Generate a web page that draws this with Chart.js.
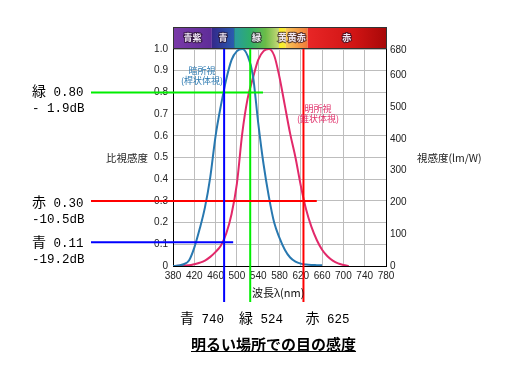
<!DOCTYPE html>
<html><head><meta charset="utf-8">
<script src="https://cdn.jsdelivr.net/npm/chart.js@4/dist/chart.umd.min.js"></script>
<style>
body{margin:0;background:#fff;width:518px;height:367px;overflow:hidden;position:relative;font-family:"Liberation Sans",Arial,sans-serif;}
#c{position:absolute;left:0;top:0;}
.t{position:absolute;white-space:pre;}
.mono{font-family:"Liberation Mono","Noto Sans CJK JP",monospace;font-size:12.5px;line-height:16px;color:#000;}
.mono b{font-weight:normal;font-family:"Noto Sans CJK JP";font-size:14px;}
.cjk{font-family:"Noto Sans CJK JP",sans-serif;}
</style></head><body>
<canvas id="c" width="518" height="367"></canvas>
<div class="t mono" style="left:32px;top:82px;"><b>緑</b> 0.80
- 1.9dB</div>
<div class="t mono" style="left:32px;top:193px;"><b>赤</b> 0.30
-10.5dB</div>
<div class="t mono" style="left:32px;top:233px;"><b>青</b> 0.11
-19.2dB</div>
<div class="t mono" style="left:180px;top:309px;"><b>青</b> 740  <b>緑</b> 524   <b>赤</b> 625</div>
<div class="t cjk" style="left:191px;top:335px;font-size:15px;line-height:18px;font-weight:bold;text-decoration:underline;">明るい場所での目の感度</div>
<div class="t cjk" style="left:106px;top:151px;font-size:10.5px;line-height:14px;color:#222;">比視感度</div>
<div class="t cjk" style="left:417px;top:151px;font-size:10.5px;line-height:14px;color:#222;">視感度(lm/W)</div>
<div class="t cjk" style="left:252px;top:285px;font-size:11px;line-height:14px;color:#111;">波長λ(nm)</div>
<div class="t cjk" style="left:172px;top:66px;width:60px;text-align:center;font-size:9px;line-height:10px;color:#2a78b0;">暗所視
(桿状体視)</div>
<div class="t cjk" style="left:288px;top:104px;width:60px;text-align:center;font-size:9px;line-height:10px;color:#e0306a;">明所視
(錐状体視)</div>
<script>
// ---- data ----
const wavelengths = [380,390,400,410,420,430,440,450,460,470,480,490,500,510,520,530,540,550,560,570,580,590,600,610,620,630,640,650,660,670,680,690,700,710];
const scotopic = [0.0,0.002,0.008,0.025,0.085,0.17,0.27,0.41,0.60,0.74,0.86,0.95,0.99,1.0,0.97,0.88,0.66,0.47,0.32,0.20,0.13,0.075,0.039,0.02,0.011,0.007,0.005,0.004,0.003,null,null,null,null,null];
const photopic = [0.0,0.001,0.002,0.003,0.008,0.015,0.025,0.042,0.065,0.095,0.15,0.24,0.38,0.61,0.77,0.865,0.95,0.99,1.0,0.97,0.87,0.74,0.61,0.50,0.37,0.26,0.18,0.12,0.075,0.045,0.025,0.012,0.005,0.0];
const xTicks = [380,420,460,500,540,580,620,660,700,740,780];
const yRightTicks = [0,100,200,300,400,500,600,680];
const yRightMax = 683;
// marker lines: name, relative value, line wavelength, horizontal line end (nm)
const markerNames = ['緑','赤','青'];
const markerValues = [0.80,0.30,0.11];
const markerNm = [525,625,476];
const markerHEndNm = [549,650,493];
const markerColors = ['#00ee00','#ff0000','#0000ff'];
// spectrum band
const bandNames = ['青紫','青','緑','黄','黄赤','赤'];
const bandEdges = [380,453,495,579,592,633,780];

const bandPlugin = {
  id:'band',
  afterDraw(chart){
    const {ctx, chartArea, scales:{x}} = chart;
    const top = chartArea.top - 22, h = 21;
    const grads = [
      [[0,'#7a3aa8'],[1,'#5e2c98']],
      [[0,'#33288a'],[1,'#2a5cb0']],
      [[0,'#2a9aa0'],[0.35,'#2eae6a'],[0.7,'#6cbc48'],[1,'#c8d878']],
      [[0,'#f8f020'],[1,'#f8e840']],
      [[0,'#f8c858'],[1,'#f07838']],
      [[0,'#e82626'],[0.6,'#d01414'],[1,'#a80808']]
    ];
    ctx.save();
    for(let i=0;i<bandNames.length;i++){
      const x0 = x.getPixelForValue(bandEdges[i]), x1 = x.getPixelForValue(bandEdges[i+1]);
      const g = ctx.createLinearGradient(x0,0,x1,0);
      grads[i].forEach(s=>g.addColorStop(s[0],s[1]));
      ctx.fillStyle = g;
      ctx.fillRect(x0,top,x1-x0,h);
      ctx.strokeStyle='#333';ctx.lineWidth=1;
      ctx.beginPath();ctx.moveTo(Math.round(x1)+0.5,top);ctx.lineTo(Math.round(x1)+0.5,top+h);ctx.stroke();
      ctx.font='bold 9px "Noto Sans CJK JP"';
      ctx.textAlign='center';ctx.textBaseline='middle';
      ctx.lineWidth=2;ctx.strokeStyle='rgba(40,20,40,0.7)';
      ctx.strokeText(bandNames[i],(x0+x1)/2,top+h/2);
      ctx.fillStyle='#f0e8f4';
      ctx.fillText(bandNames[i],(x0+x1)/2,top+h/2);
    }
    ctx.strokeStyle='#333';ctx.lineWidth=1;
    ctx.strokeRect(Math.round(chartArea.left)+0.5,top+0.5,Math.round(chartArea.right-chartArea.left),h);
    ctx.restore();
  }
};
const markerPlugin = {
  id:'markers',
  afterDraw(chart){
    const {ctx, chartArea, scales:{x,y}} = chart;
    ctx.save();
    ctx.lineWidth=2;
    for(let i=0;i<markerNames.length;i++){
      ctx.strokeStyle=markerColors[i];
      const py = y.getPixelForValue(markerValues[i]);
      ctx.beginPath();ctx.moveTo(91,py);ctx.lineTo(x.getPixelForValue(markerHEndNm[i]),py);ctx.stroke();
      const px = x.getPixelForValue(markerNm[i]);
      ctx.beginPath();ctx.moveTo(px,chartArea.top);ctx.lineTo(px,302);ctx.stroke();
    }
    ctx.restore();
  }
};
const mk = arr => wavelengths.map((w,i)=>({x:w,y:arr[i]}));
new Chart(document.getElementById('c'),{
  type:'line',
  data:{datasets:[
    {label:'暗所視',data:mk(scotopic),borderColor:'#2878b0',borderWidth:2,pointRadius:0,cubicInterpolationMode:'monotone',spanGaps:false,yAxisID:'y'},
    {label:'明所視',data:mk(photopic),borderColor:'#e2296a',borderWidth:2,pointRadius:0,cubicInterpolationMode:'monotone',yAxisID:'y'}
  ]},
  options:{
    responsive:false,animation:false,
    layout:{padding:{top:49,left:0,right:0,bottom:0}},
    plugins:{legend:{display:false},tooltip:{enabled:false}},
    scales:{
      x:{type:'linear',min:380,max:780,
        afterBuildTicks(a){a.ticks=xTicks.map(v=>({value:v}));},
        ticks:{padding:4,font:{size:10,family:'"Liberation Sans"'},color:'#222',maxRotation:0},
        grid:{color:'#bdbdbd',drawTicks:false},
        border:{color:'#000',width:1},
        afterFit(s){s.height=101;}},
      y:{position:'left',min:0,max:1,
        ticks:{stepSize:0.1,padding:5,font:{size:10,family:'"Liberation Sans"'},color:'#222',callback:v=>v===0?'0':v.toFixed(1)},
        grid:{color:'#bdbdbd',drawTicks:false},
        border:{color:'#000',width:1},
        afterFit(s){s.width=173;}},
      y2:{position:'right',min:0,max:yRightMax,
        afterBuildTicks(a){a.ticks=yRightTicks.map(v=>({value:v}));},
        ticks:{padding:4,font:{size:10,family:'"Liberation Sans"'},color:'#222',callback:v=>String(v)},
        grid:{display:false,drawTicks:false},
        border:{color:'#000',width:1},
        afterFit(s){s.width=132;}}
    }
  },
  plugins:[bandPlugin,markerPlugin]
});
</script>
</body></html>
